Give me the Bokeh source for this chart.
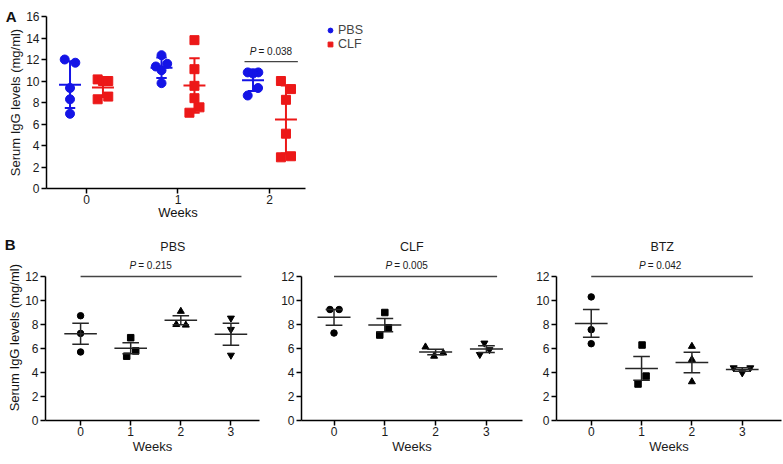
import numpy as np
from bokeh.plotting import figure
from bokeh.models import Range1d, FixedTicker, Label, Legend, LegendItem, LinearAxis
from bokeh.layouts import column, row
from bokeh.embed import file_html
from bokeh.resources import INLINE

FONT = "Liberation Sans"
BLUE = "#1414e6"
RED = "#ec1818"
DARK = "#262626"

# ---------------- Panel A data ----------------
weeks_a = [0, 1, 2]
week_labels_a = ["0", "1", "2"]
pbs_a = [[12.0, 11.7, 9.35, 8.3, 6.95],
         [12.4, 11.6, 11.35, 11.0, 9.8],
         [10.8, 10.8, 10.7, 9.35, 8.65]]
pbs_a_jitter = [[-0.058, 0.058, 0, 0, 0],
                [0, 0.062, -0.062, 0, 0],
                [-0.058, 0.058, 0, 0.055, -0.058]]
clf_a = [[10.15, 10.0, 10.0, 8.3, 8.55],
         [13.8, 11.1, 9.55, 8.4, 7.55, 7.05],
         [10.0, 9.25, 8.25, 5.1, 2.9, 3.0]]
clf_a_jitter = [[-0.058, 0.058, 0, -0.058, 0.058],
                [0, 0, 0, 0, 0.055, -0.055],
                [-0.055, 0.055, 0, 0, -0.055, 0.055]]
p_value_a = "0.038"

# ---------------- Panel B data ----------------
weeks_b = [0, 1, 2, 3]
week_labels_b = ["0", "1", "2", "3"]
groups_b = ["PBS", "CLF", "BTZ"]
p_values_b = ["0.215", "0.005", "0.042"]
pbs_b = [[8.73, 7.26, 5.71], [6.9, 5.8, 5.36], [9.1, 8.0, 7.95], [8.53, 7.59, 5.44]]
clf_b = [[9.25, 9.25, 7.29], [9.0, 7.73, 7.12], [6.13, 5.63, 5.36], [6.45, 5.9, 5.5]]
btz_b = [[10.3, 7.57, 6.4], [6.29, 3.7, 3.04], [6.18, 5.08, 3.23], [4.39, 3.97, 4.39]]
pbs_b_jitter = [[0, 0, 0], [0, 0.1, -0.08], [0, -0.09, 0.1], [0, 0, 0]]
clf_b_jitter = [[-0.08, 0.1, 0], [0, 0.07, -0.1], [-0.2, 0.15, -0.03], [-0.04, 0.06, -0.13]]
btz_b_jitter = [[0, 0, 0], [0.01, 0.09, -0.07], [0, 0, 0], [-0.17, 0, 0.16]]
markers_b = ["circle", "square", "triangle", "inverted_triangle"]
y_title = "Serum IgG levels (mg/ml)"


def style_axes(p, xticks, xlabels, xbounds, yticks, ybounds, xlabel, ylabel):
    for ax in (p.xaxis[0], p.yaxis[0]):
        ax.axis_line_color = "black"
        ax.axis_line_width = 1.5
        ax.major_tick_line_color = "black"
        ax.major_tick_line_width = 1.5
        ax.major_tick_out = 5
        ax.major_tick_in = 0
        ax.minor_tick_line_color = None
        ax.major_label_text_font = FONT
        ax.major_label_text_font_size = "12px"
        ax.major_label_text_color = "#1a1a1a"
        ax.axis_label_text_font = FONT
        ax.axis_label_text_font_size = "13px"
        ax.axis_label_text_font_style = "normal"
        ax.axis_label_text_color = "#1a1a1a"
    p.xaxis.major_label_standoff = 1
    p.xaxis.axis_label_standoff = 0
    p.yaxis.major_label_standoff = 2
    p.yaxis.axis_label_standoff = 0
    p.xaxis.ticker = FixedTicker(ticks=xticks)
    p.xaxis.major_label_overrides = {t: l for t, l in zip(xticks, xlabels)}
    p.xaxis.bounds = xbounds
    p.yaxis.ticker = FixedTicker(ticks=yticks)
    p.yaxis.bounds = ybounds
    if xlabel:
        p.xaxis.axis_label = xlabel
    if ylabel:
        p.yaxis.axis_label = ylabel
    p.xgrid.visible = False
    p.ygrid.visible = False
    p.outline_line_color = None


def text_axis(p, side, pos, text, standoff, size, style="normal", orientation="horizontal"):
    # an extra, line-less axis whose single tick label carries a piece of text
    ax = LinearAxis(ticker=FixedTicker(ticks=[pos]), major_label_overrides={pos: text},
                    axis_line_color=None, major_tick_line_color=None, minor_tick_line_color=None,
                    major_tick_out=0, major_tick_in=0, major_label_standoff=standoff,
                    major_label_orientation=orientation,
                    major_label_text_font=FONT, major_label_text_font_style=style,
                    major_label_text_font_size=size, major_label_text_color="#111111")
    p.add_layout(ax, side)


def p_label(p, x, y, pval, size, xoff):
    p.add_layout(Label(x=x, y=y, x_offset=xoff, text="P", text_font=FONT,
                       text_font_style="italic", text_font_size=size,
                       text_align="right", text_baseline="middle", text_color="#1a1a1a"))
    p.add_layout(Label(x=x, y=y, x_offset=xoff + 2, text="= " + pval, text_font=FONT,
                       text_font_size=size, text_align="left", text_baseline="middle",
                       text_color="#1a1a1a"))


# ---------------- Panel A figure ----------------
xr_a = (-0.437, 7.53)
xbounds_a = (-0.437, 2.393)
pa = figure(width=783, height=224, x_range=Range1d(*xr_a), y_range=Range1d(0, 16),
            output_backend="svg", toolbar_location=None,
            min_border_left=46, min_border_right=8, min_border_top=16, min_border_bottom=36)
style_axes(pa, weeks_a, week_labels_a, xbounds_a, list(range(0, 17, 2)), (0, 16),
           None, y_title)

renderers = {}
for name, vals, jit, color, marker, off in [("PBS", pbs_a, pbs_a_jitter, BLUE, "circle", -0.18),
                                           ("CLF", clf_a, clf_a_jitter, RED, "square", 0.18)]:
    xs, ys = [], []
    for w, v, j in zip(weeks_a, vals, jit):
        xs += [w + off + jj for jj in j]
        ys += v
    r = pa.scatter(xs, ys, marker=marker, size=9, color=color)
    renderers[name] = r
    cx = [w + off for w in weeks_a]
    means = [float(np.mean(v)) for v in vals]
    sds = [float(np.std(v, ddof=1)) for v in vals]
    pa.segment([c - 0.12 for c in cx], means, [c + 0.12 for c in cx], means, line_color=color, line_width=2)
    pa.segment(cx, [m - s for m, s in zip(means, sds)], cx, [m + s for m, s in zip(means, sds)],
               line_color=color, line_width=2)
    for sgn in (-1, 1):
        ey = [m + sgn * s for m, s in zip(means, sds)]
        pa.segment([c - 0.057 for c in cx], ey, [c + 0.057 for c in cx], ey, line_color=color, line_width=2)

# significance bracket week 2
pa.segment([1.727], [11.8], [2.31], [11.8], line_color="#444444", line_width=1.3)
p_label(pa, 2.0, 12.7, p_value_a, "10px", -13)

legend = Legend(items=[LegendItem(label="PBS", renderers=[renderers["PBS"]]),
                       LegendItem(label="CLF", renderers=[renderers["CLF"]])],
                location=(278, 137), glyph_width=12, glyph_height=12, label_height=12,
                spacing=-2, padding=0, margin=0, border_line_color=None,
                background_fill_alpha=0, label_text_font=FONT, label_text_font_size="12.5px",
                label_standoff=2)
pa.add_layout(legend)
text_axis(pa, "left", 16, "A", -11, "15px", "bold")
text_axis(pa, "below", 1, "Weeks", -2, "13px")

# ---------------- Panel B figures ----------------
specs = [
    # name, values, jitter, width, borders(l, r), x_range, title x, p x
    ("PBS", pbs_b, pbs_b_jitter, 268, 45, 9, (-0.70, 3.57), 1.84, 1.37),
    ("CLF", clf_b, clf_b_jitter, 260, 33, 6, (-0.64, 3.71), 1.53, 1.40),
    ("BTZ", btz_b, btz_b_jitter, 255, 28, 2, (-0.69, 3.78), 1.41, 1.34),
]
figs_b = []
for i, (name, vals, jit, w, bl, br, xr, tx, px) in enumerate(specs):
    pb = figure(width=w, height=240, x_range=Range1d(*xr), y_range=Range1d(0, 15),
                output_backend="svg", toolbar_location=None,
                min_border_left=bl, min_border_right=br, min_border_top=16, min_border_bottom=44)
    style_axes(pb, weeks_b, week_labels_b, xr, list(range(0, 13, 2)), (0, 12),
               "Weeks", None)
    for wk, v, j, mk in zip(weeks_b, vals, jit, markers_b):
        pb.scatter([wk + jj for jj in j], v, marker=mk, size=7 if "triangle" in mk else 6.5,
                   color="black")
    means = [float(np.mean(v)) for v in vals]
    sems = [float(np.std(v, ddof=1) / np.sqrt(len(v))) for v in vals]
    pb.segment([x - 0.325 for x in weeks_b], means, [x + 0.325 for x in weeks_b], means,
               line_color=DARK, line_width=1.5)
    pb.segment(weeks_b, [m - s for m, s in zip(means, sems)], weeks_b, [m + s for m, s in zip(means, sems)],
               line_color=DARK, line_width=1.5)
    for sgn in (-1, 1):
        ey = [m + sgn * s for m, s in zip(means, sems)]
        pb.segment([x - 0.165 for x in weeks_b], ey, [x + 0.165 for x in weeks_b], ey,
                   line_color=DARK, line_width=1.5)
    pb.segment([weeks_b[0]], [12], [3.21], [12], line_color="#444444", line_width=1.5)
    p_label(pb, px, 12.9, p_values_b[i], "10px", -13)
    pb.add_layout(Label(x=tx, y=14.5, text=name, text_font=FONT, text_font_size="12.5px",
                        text_align="center", text_baseline="middle", text_color="#1a1a1a"))
    if i == 0:
        text_axis(pb, "left", 6.9, y_title, 0, "13px", "normal", "parallel")
        text_axis(pb, "left", 14.67, "B", -11, "15px", "bold")
    figs_b.append(pb)

layout = column(pa, row(*figs_b))
open("out.html", "w").write(file_html(layout, INLINE))
